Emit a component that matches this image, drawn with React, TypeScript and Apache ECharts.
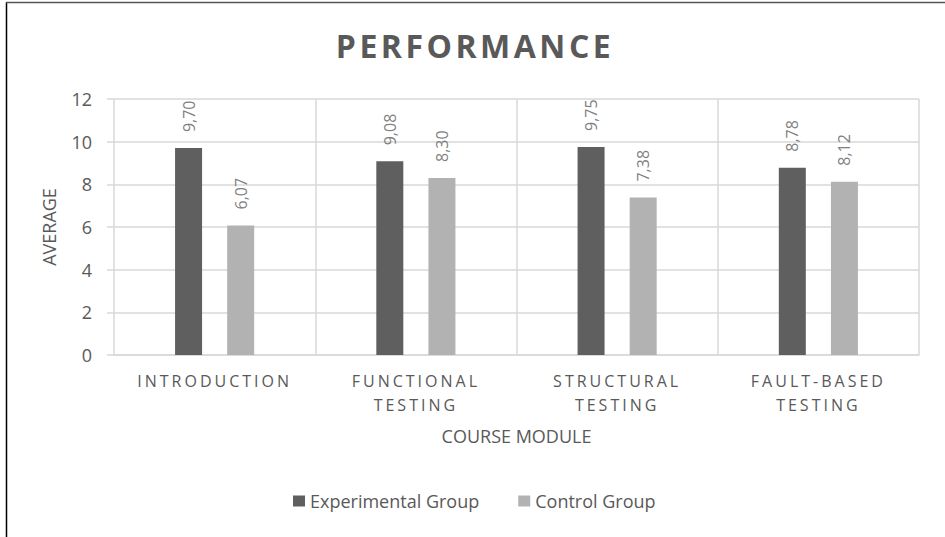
import React, { useEffect, useRef } from "react";
import * as echarts from "echarts";

const categories = ["INTRODUCTION", "FUNCTIONAL\nTESTING", "STRUCTURAL\nTESTING", "FAULT-BASED\nTESTING"];
const experimentalGroup = [9.7, 9.08, 9.75, 8.78];
const controlGroup = [6.07, 8.3, 7.38, 8.12];
const seriesNames = ["Experimental Group", "Control Group"];
const yMin = 0;
const yMax = 12;
const yStep = 2;

const TEXT = "#595959";
const GRID = "#d9d9d9";
const FONT = "'Open Sans', sans-serif";
const FONT_SPACED = "'Open Sans', Carlito, sans-serif";
const FONT_TITLE = "'Open Sans', Caladea, sans-serif";

export default function App() {
  const ref = useRef<HTMLDivElement>(null);
  useEffect(() => {
    if (!ref.current) return;
    const chart = echarts.init(ref.current, undefined, { renderer: "svg" });
    const fmt = (p: any) => Number(p.value).toFixed(2).replace(".", ",");
    const barLabel = {
      show: true,
      position: "top",
      distance: 16,
      rotate: 90,
      align: "left",
      verticalAlign: "middle",
      fontFamily: FONT,
      fontSize: 16,
      color: "#7f7f7f",
      formatter: fmt,
    };
    chart.setOption({
      animation: false,
      backgroundColor: "#ffffff",
      textStyle: { fontFamily: FONT, color: TEXT },
      graphic: [
        { type: "line", shape: { x1: 6.5, y1: 2, x2: 6.5, y2: 537 }, style: { stroke: "#000", lineWidth: 1.5 } },
        { type: "line", shape: { x1: 6, y1: 2.5, x2: 945, y2: 2.5 }, style: { stroke: "#555", lineWidth: 1.5 } },
        {
          type: "text",
          x: 475,
          y: 45,
          style: {
            text: "PERFORMANCE",
            fill: TEXT,
            font: `bold 32px ${FONT_TITLE}`,
            textAlign: "center",
            textVerticalAlign: "middle",
          },
        },
      ],
      grid: { left: 114, right: 26, top: 99, bottom: 182, containLabel: false },
      legend: {
        data: seriesNames,
        left: 293,
        top: 492,
        padding: 0,
        icon: "rect",
        itemWidth: 12,
        itemHeight: 11,
        itemGap: 39,
        textStyle: { fontFamily: FONT, fontSize: 18, color: TEXT },
      },
      xAxis: {
        type: "category",
        data: categories,
        name: "COURSE MODULE",
        nameLocation: "middle",
        nameGap: 72,
        nameTextStyle: { fontFamily: FONT, fontSize: 18, color: TEXT },
        axisLine: { show: true, lineStyle: { color: GRID, width: 1.5 } },
        axisTick: { show: false },
        splitLine: { show: true, lineStyle: { color: GRID, width: 1.5 } },
        axisLabel: {
          interval: 0,
          margin: 14,
          fontFamily: FONT_SPACED,
          fontSize: 16,
          lineHeight: 24,
          color: TEXT,
        },
      },
      yAxis: {
        type: "value",
        min: yMin,
        max: yMax,
        interval: yStep,
        name: "AVERAGE",
        nameLocation: "middle",
        nameGap: 56,
        nameRotate: 90,
        nameTextStyle: { fontFamily: FONT, fontSize: 18, color: TEXT },
        axisLine: { show: false },
        axisTick: { show: true, length: 7, lineStyle: { color: GRID, width: 1.5 } },
        splitLine: { show: true, lineStyle: { color: GRID, width: 1.5 } },
        axisLabel: { margin: 22, fontFamily: FONT, fontSize: 18, color: TEXT },
      },
      series: [
        {
          name: seriesNames[0],
          type: "bar",
          data: experimentalGroup,
          barWidth: 27,
          barGap: "93%",
          itemStyle: { color: "#5f5f5f" },
          label: barLabel,
        },
        {
          name: seriesNames[1],
          type: "bar",
          data: controlGroup,
          barWidth: 27,
          barGap: "93%",
          itemStyle: { color: "#b2b2b2" },
          label: barLabel,
        },
      ],
    });
    return () => chart.dispose();
  }, []);
  return (
    <>
      <style>{"text[style*='Carlito']{letter-spacing:3px}text[style*='Caladea']{letter-spacing:3.5px}"}</style>
      <div ref={ref} style={{ position: "absolute", left: 0, top: 0, width: 945, height: 537 }} />
    </>
  );
}
